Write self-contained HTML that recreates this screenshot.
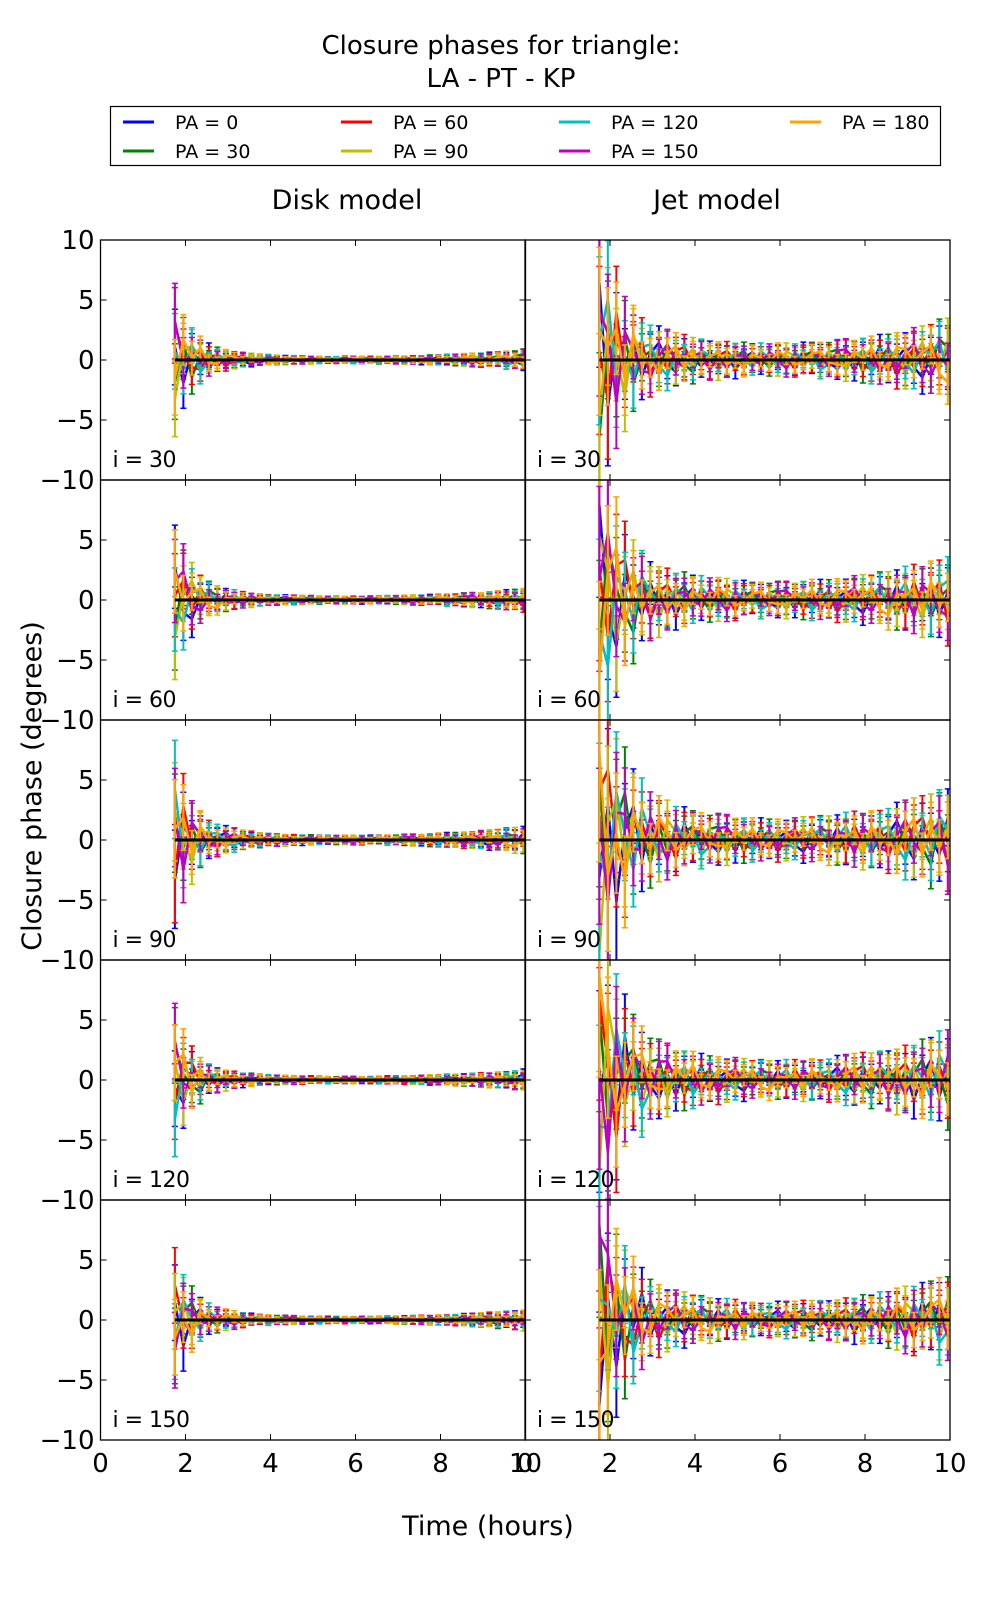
<!DOCTYPE html>
<html><head><meta charset="utf-8"><style>
html,body{margin:0;padding:0;background:#fff;}
svg{display:block;font-family:"DejaVu Sans","Liberation Sans",sans-serif;}
</style></head><body>
<svg id="fig" width="1000" height="1600" viewBox="0 0 1000 1600">
<text x="501" y="54" font-size="26" text-anchor="middle">Closure phases for triangle:</text>
<text x="501" y="87" font-size="26" text-anchor="middle">LA - PT - KP</text>
<g id="legend"><rect x="110.5" y="106.5" width="830" height="59" fill="#fff" stroke="#000" stroke-width="1.2"/></g>
<text x="347" y="209" font-size="27" text-anchor="middle">Disk model</text>
<text x="717" y="209" font-size="27" text-anchor="middle">Jet model</text>
<text x="0" y="0" font-size="27" text-anchor="middle" transform="translate(41,786) rotate(-90)">Closure phase (degrees)</text>
<text x="488" y="1535" font-size="27" text-anchor="middle">Time (hours)</text>
<g id="panels"></g>
</svg>
<script>
const seriesLabels = ["PA = 0","PA = 30","PA = 60","PA = 90","PA = 120","PA = 150","PA = 180"];
const seriesColors = ["#0000ff","#008000","#ff0000","#bfbf00","#00bfbf","#bf00bf","#ffa500"];
const inclinations = [30,60,90,120,150];
const xTicks = [0,2,4,6,8,10];
const yTicks = [10,5,0,-5,-10];
const times = [];
for (let k=0;k<42;k++) times.push(1.75+k*0.2);
const diskEnv = [4.5,3.0,2.0,1.4,1.0,0.8,0.65,0.55,0.45,0.4,0.35,0.32,0.3,0.28,0.26,0.25,0.24,0.23,0.22,0.22,0.22,0.22,0.22,0.22,0.23,0.24,0.25,0.26,0.27,0.28,0.3,0.32,0.34,0.36,0.38,0.4,0.43,0.46,0.5,0.55,0.6,0.65];
const jetEnv = [10,7,5.5,4.2,3.4,2.8,2.3,2.0,1.8,1.6,1.5,1.4,1.3,1.25,1.2,1.15,1.1,1.05,1.0,1.0,1.0,1.0,1.0,1.0,1.05,1.1,1.1,1.15,1.2,1.25,1.3,1.35,1.4,1.5,1.6,1.7,1.8,1.9,2.0,2.2,2.4,2.6];
const diskScale = [1,1.1,1.3,1.0,1.0];
const jetScale = [1,1.1,1.3,1.2,1.1];
const noise = [
[.3,-.8,.5,-.2,.9,-.6,.1,.7,-.4,-.9,.2,.6,-.3,.8,-.7,.4,-.1,.5,-.6,.3,.9,-.2,-.8,.6,.1,-.5,.7,-.3,.4,-.9,.2,.8,-.6,.5,-.1,.3,-.7,.9,-.4,.6,-.2,-.8],
[-.5,.6,-.9,.4,.1,.8,-.3,-.6,.7,.2,-.4,.9,.5,-.8,.3,-.2,.6,-.7,.1,.4,-.5,.8,.2,-.3,-.9,.7,-.1,.5,-.6,.3,.9,-.4,.2,-.8,.6,-.5,.1,.4,.8,-.3,.7,.9],
[.8,.2,-.4,-.7,.5,.3,-.9,.1,.6,-.5,.8,-.2,.4,.1,-.6,.9,-.3,.2,.7,-.8,.3,-.5,.6,.9,-.2,.1,-.7,.4,.8,-.1,-.6,.3,.5,-.4,.7,.2,-.9,.6,-.3,.1,.5,-.6],
[-.9,.4,.7,.3,-.5,-.2,.6,-.8,.2,.9,-.1,-.4,.8,-.6,.5,.1,-.9,.7,.3,-.2,.6,.4,-.7,.1,.8,-.3,.5,-.9,.2,.6,-.4,.7,-.1,.3,-.8,.9,.4,-.5,.1,-.7,.3,.5],
[.2,-.3,.8,-.9,-.1,.5,.4,-.2,-.7,.6,.3,.8,-.5,.2,.9,-.4,.1,-.6,.5,.7,-.3,-.9,.4,.2,-.6,.8,.3,-.1,-.5,.7,.1,-.7,.9,.2,-.4,-.6,.8,.1,.5,-.9,-.4,.2],
[.9,-.1,.3,.6,-.8,.2,-.5,.4,.9,-.3,-.7,.1,-.2,.5,.4,-.8,.7,.3,-.4,-.6,.2,.9,-.1,-.5,.3,.6,-.8,.2,-.7,.4,.5,-.2,-.3,.8,.1,-.9,.6,-.4,.7,.3,-.6,.8],
[-.4,.7,.1,.9,-.3,-.5,.8,.6,-.1,.4,.7,-.6,-.9,.3,.2,.6,-.5,.8,-.2,.1,-.7,.4,.9,-.6,.5,-.2,.3,.7,-.4,.1,-.8,.6,.2,-.3,.9,.4,-.5,-.1,.6,.8,-.2,-.4]
];
const NS="http://www.w3.org/2000/svg";
function mk(tag, attrs, parent){const e=document.createElementNS(NS,tag);for(const k in attrs)e.setAttribute(k,attrs[k]);parent.appendChild(e);return e;}
const leg=document.getElementById('legend');
const legX=[123,341,559,790], legY=[122,151];
seriesLabels.forEach((lab,i)=>{
  const c=Math.floor(i/2), r=i%2;
  const g=mk('g',{},leg);
  
  
  mk('line',{x1:legX[c],x2:legX[c]+31,y1:legY[r],y2:legY[r],stroke:seriesColors[i],'stroke-width':3},g);
  const t=mk('text',{x:legX[c]+52,y:legY[r]+7,'font-size':19},g);t.textContent=lab;
});
const panels=document.getElementById('panels');
const X0=[100.5,525], PW=425, PH=240, Y0=240;
for(let r=0;r<5;r++){
 for(let c=0;c<2;c++){
  const px=X0[c], py=Y0+r*PH;
  const sx=t=>px+t/10*PW;
  const sy=v=>py+PH/2-v/20*PH;
  const g=mk('g',{},panels);
  
  
  const cid='clip'+r+c;
  const cp=mk('clipPath',{id:cid},g);mk('rect',{x:px,y:py,width:PW,height:PH},cp);
  const dg=mk('g',{'clip-path':'url(#'+cid+')'},g);
  const env=c?jetEnv:diskEnv, sc=c?jetScale[r]:diskScale[r];
  const off=(r*7+c*13)%42;
  seriesLabels.forEach((lab,s)=>{
    const sg=mk('g',{},dg);
    
    
    let d='';
    times.forEach((t,k)=>{
      const v=noise[s][(k+off)%42]*env[k]*sc*0.8;
      const e=env[k]*sc*0.7;
      const x=sx(t);
      mk('line',{x1:x,x2:x,y1:sy(v-e),y2:sy(v+e),stroke:seriesColors[s],'stroke-width':2},sg);
      mk('line',{x1:x-3,x2:x+3,y1:sy(v-e),y2:sy(v-e),stroke:seriesColors[s],'stroke-width':1.5},sg);
      mk('line',{x1:x-3,x2:x+3,y1:sy(v+e),y2:sy(v+e),stroke:seriesColors[s],'stroke-width':1.5},sg);
      d+=(k?'L':'M')+x.toFixed(1)+','+sy(v).toFixed(1);
    });
    mk('path',{d:d,fill:'none',stroke:seriesColors[s],'stroke-width':2.5},sg);
  });
  const zl=mk('line',{x1:sx(1.75),x2:sx(10),y1:sy(0),y2:sy(0),stroke:'#000','stroke-width':3},g);
  
  
  mk('rect',{x:px,y:py,width:PW,height:PH,fill:'none',stroke:'#000','stroke-width':1.3},g);
  xTicks.forEach(t=>{
    mk('line',{x1:sx(t),x2:sx(t),y1:py+PH,y2:py+PH-6,stroke:'#000','stroke-width':1},g);
    mk('line',{x1:sx(t),x2:sx(t),y1:py,y2:py+6,stroke:'#000','stroke-width':1},g);
    if(r===4){const tl=mk('text',{x:sx(t),y:py+PH+32,'font-size':26,'text-anchor':'middle'},g);tl.textContent=String(t);
      }
  });
  yTicks.forEach(v=>{
    mk('line',{x1:px,x2:px+6,y1:sy(v),y2:sy(v),stroke:'#000','stroke-width':1},g);
    mk('line',{x1:px+PW,x2:px+PW-6,y1:sy(v),y2:sy(v),stroke:'#000','stroke-width':1},g);
    if(c===0 && (v!==10 || r===0)){
      const tl=mk('text',{x:px-6,y:sy(v)+9,'font-size':26,'text-anchor':'end'},g);
      tl.textContent=(v<0?'\u2212':'')+Math.abs(v);
      
    }
  });
  const il=mk('text',{x:px+12,y:py+PH-13,'font-size':22,'letter-spacing':'-0.5'},g);
  il.textContent='i = '+inclinations[r];
  
  
 }
}
</script>
</body></html>
